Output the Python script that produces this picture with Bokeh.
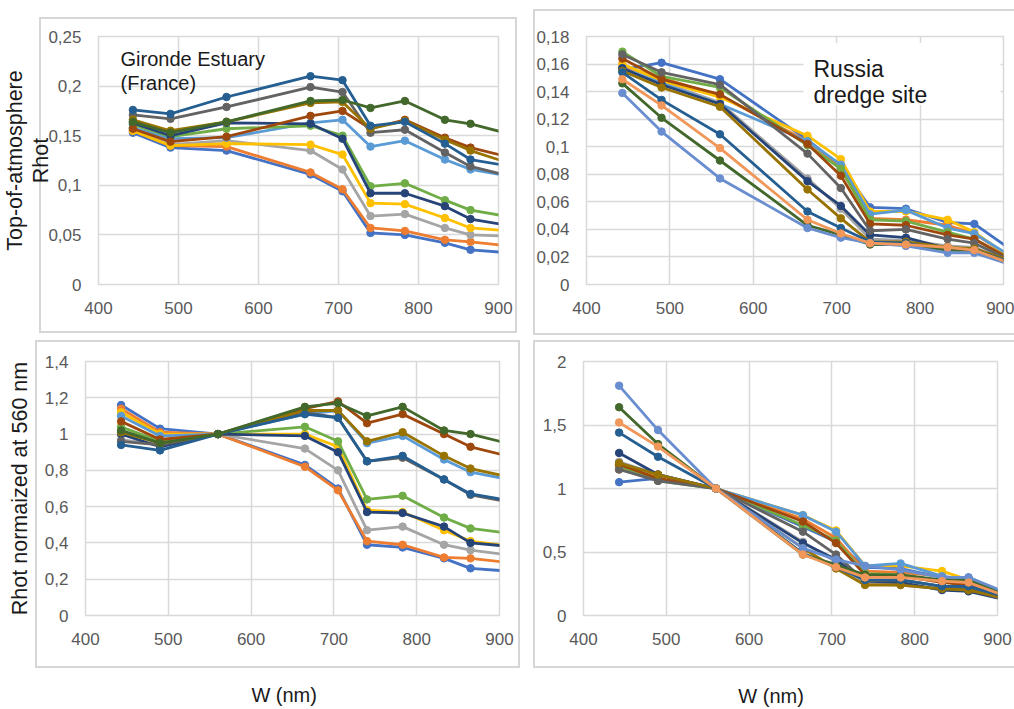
from bokeh.plotting import figure
from bokeh.layouts import column, row
from bokeh.models import (Label, FixedTicker, Range1d, BoxAnnotation, ColumnDataSource)
from bokeh.embed import file_html
from bokeh.resources import INLINE

# ---------------- data ----------------
wavelength = [443, 490, 560, 665, 705, 740, 783, 833, 865, 945]

x_ticks = [400, 500, 600, 700, 800, 900]
x_tick_labels = ["400", "500", "600", "700", "800", "900"]

gironde_y_ticks = [0, 0.05, 0.1, 0.15, 0.2, 0.25]
gironde_y_labels = ["0", "0,05", "0,1", "0,15", "0,2", "0,25"]
russia_y_ticks = [0, 0.02, 0.04, 0.06, 0.08, 0.1, 0.12, 0.14, 0.16, 0.18]
russia_y_labels = ["0", "0,02", "0,04", "0,06", "0,08", "0,1", "0,12", "0,14", "0,16", "0,18"]
gironde_norm_y_ticks = [0, 0.2, 0.4, 0.6, 0.8, 1, 1.2, 1.4]
gironde_norm_y_labels = ["0", "0,2", "0,4", "0,6", "0,8", "1", "1,2", "1,4"]
russia_norm_y_ticks = [0, 0.5, 1, 1.5, 2]
russia_norm_y_labels = ["0", "0,5", "1", "1,5", "2"]

series_colors = ["#4472C4", "#ED7D31", "#A5A5A5", "#FFC000", "#5B9BD5", "#70AD47",
                 "#264478", "#9E480E", "#636363", "#997300", "#255E91", "#43682B",
                 "#698ED0", "#F1975A"]

gironde_rhot = [
    [0.153, 0.138, 0.135, 0.111, 0.094, 0.052, 0.050, 0.042, 0.035, 0.030],
    [0.155, 0.140, 0.139, 0.113, 0.096, 0.057, 0.054, 0.045, 0.043, 0.036],
    [0.158, 0.141, 0.145, 0.135, 0.116, 0.069, 0.071, 0.057, 0.050, 0.048],
    [0.155, 0.140, 0.142, 0.141, 0.131, 0.082, 0.081, 0.067, 0.057, 0.052],
    [0.158, 0.147, 0.148, 0.163, 0.166, 0.139, 0.145, 0.126, 0.116, 0.105],
    [0.161, 0.149, 0.157, 0.160, 0.150, 0.099, 0.102, 0.085, 0.075, 0.064],
    [0.163, 0.150, 0.163, 0.162, 0.147, 0.092, 0.092, 0.079, 0.066, 0.055],
    [0.157, 0.144, 0.149, 0.170, 0.175, 0.157, 0.166, 0.148, 0.138, 0.122],
    [0.171, 0.167, 0.179, 0.199, 0.194, 0.153, 0.156, 0.133, 0.119, 0.103],
    [0.166, 0.155, 0.164, 0.183, 0.184, 0.157, 0.165, 0.146, 0.135, 0.114],
    [0.176, 0.172, 0.189, 0.210, 0.206, 0.160, 0.164, 0.142, 0.126, 0.115],
    [0.164, 0.153, 0.164, 0.185, 0.186, 0.178, 0.185, 0.166, 0.162, 0.145],
]

russia_rhot = [
    [0.156, 0.161, 0.149, 0.105, 0.086, 0.056, 0.055, 0.045, 0.044, 0.010],
    [0.158, 0.150, 0.137, 0.104, 0.084, 0.048, 0.047, 0.043, 0.037, 0.005],
    [0.160, 0.147, 0.132, 0.077, 0.055, 0.033, 0.032, 0.028, 0.027, 0.008],
    [0.160, 0.148, 0.136, 0.108, 0.091, 0.053, 0.053, 0.047, 0.038, 0.004],
    [0.157, 0.146, 0.131, 0.104, 0.087, 0.051, 0.054, 0.041, 0.037, 0.007],
    [0.169, 0.151, 0.143, 0.101, 0.084, 0.047, 0.046, 0.038, 0.033, 0.006],
    [0.157, 0.145, 0.131, 0.075, 0.057, 0.036, 0.034, 0.026, 0.025, 0.009],
    [0.164, 0.149, 0.138, 0.102, 0.079, 0.044, 0.043, 0.036, 0.033, 0.006],
    [0.167, 0.154, 0.145, 0.095, 0.070, 0.039, 0.040, 0.033, 0.030, 0.007],
    [0.155, 0.143, 0.129, 0.069, 0.048, 0.031, 0.031, 0.027, 0.026, 0.010],
    [0.154, 0.134, 0.109, 0.053, 0.041, 0.031, 0.030, 0.025, 0.025, 0.009],
    [0.146, 0.121, 0.090, 0.043, 0.036, 0.029, 0.029, 0.025, 0.025, 0.007],
    [0.139, 0.111, 0.077, 0.041, 0.034, 0.030, 0.028, 0.023, 0.023, 0.007],
    [0.149, 0.130, 0.099, 0.047, 0.037, 0.030, 0.029, 0.027, 0.025, 0.007],
]

gironde_norm = [
    [1.16, 1.03, 1.00, 0.83, 0.70, 0.39, 0.375, 0.315, 0.26, 0.233],
    [1.14, 1.01, 1.00, 0.82, 0.69, 0.41, 0.39, 0.32, 0.315, 0.274],
    [0.97, 0.94, 1.00, 0.92, 0.80, 0.47, 0.49, 0.39, 0.36, 0.314],
    [1.12, 1.00, 1.00, 1.00, 0.93, 0.58, 0.57, 0.47, 0.41, 0.364],
    [1.10, 0.99, 1.00, 1.11, 1.13, 0.95, 0.99, 0.86, 0.79, 0.721],
    [1.04, 0.96, 1.00, 1.04, 0.96, 0.64, 0.66, 0.54, 0.48, 0.434],
    [1.00, 0.93, 1.00, 0.99, 0.90, 0.57, 0.565, 0.49, 0.40, 0.368],
    [1.07, 0.97, 1.00, 1.14, 1.18, 1.06, 1.11, 1.00, 0.93, 0.839],
    [0.96, 0.94, 1.00, 1.12, 1.09, 0.85, 0.87, 0.75, 0.665, 0.596],
    [1.01, 0.95, 1.00, 1.13, 1.13, 0.96, 1.01, 0.88, 0.81, 0.730],
    [0.94, 0.91, 1.00, 1.11, 1.09, 0.85, 0.88, 0.75, 0.67, 0.608],
    [1.02, 0.95, 1.00, 1.15, 1.17, 1.10, 1.15, 1.02, 1.00, 0.909],
]

russia_norm = [
    [1.05, 1.08, 1.00, 0.70, 0.58, 0.38, 0.37, 0.30, 0.30, 0.07],
    [1.15, 1.09, 1.00, 0.76, 0.61, 0.35, 0.34, 0.31, 0.27, 0.03],
    [1.21, 1.11, 1.00, 0.58, 0.42, 0.25, 0.24, 0.21, 0.20, 0.06],
    [1.18, 1.09, 1.00, 0.79, 0.67, 0.39, 0.39, 0.35, 0.28, 0.03],
    [1.20, 1.11, 1.00, 0.79, 0.66, 0.39, 0.41, 0.31, 0.28, 0.05],
    [1.18, 1.06, 1.00, 0.71, 0.59, 0.33, 0.32, 0.27, 0.23, 0.04],
    [1.28, 1.11, 1.00, 0.57, 0.44, 0.27, 0.26, 0.20, 0.19, 0.07],
    [1.19, 1.08, 1.00, 0.74, 0.57, 0.32, 0.31, 0.26, 0.24, 0.04],
    [1.15, 1.06, 1.00, 0.66, 0.48, 0.27, 0.28, 0.23, 0.21, 0.05],
    [1.20, 1.11, 1.00, 0.53, 0.37, 0.24, 0.24, 0.21, 0.20, 0.08],
    [1.44, 1.25, 1.00, 0.49, 0.38, 0.28, 0.28, 0.23, 0.23, 0.08],
    [1.64, 1.35, 1.00, 0.48, 0.40, 0.32, 0.32, 0.28, 0.28, 0.08],
    [1.81, 1.46, 1.00, 0.53, 0.44, 0.39, 0.36, 0.30, 0.30, 0.09],
    [1.52, 1.33, 1.00, 0.48, 0.38, 0.30, 0.30, 0.27, 0.26, 0.07],
]

# ---------------- styling ----------------
FONT = "Liberation Sans"
TICK_COLOR = "#595959"
GRID_COLOR = "#d9d9d9"
BOX_COLOR = "#d6d6d6"
TEXT_COLOR = "#1a1a1a"


def box_background(left, top, right, bottom):
    """CSS background painting the thin chart-box border (local pixels)."""
    w = right - left
    h = bottom - top
    g = "linear-gradient(%s,%s)" % (BOX_COLOR, BOX_COLOR)
    layers = [
        "%s %dpx %dpx / %dpx 2px no-repeat" % (g, left, top, w),
        "%s %dpx %dpx / %dpx 2px no-repeat" % (g, left, bottom - 2, w),
        "%s %dpx %dpx / 2px %dpx no-repeat" % (g, left, top, h),
        "%s %dpx %dpx / 2px %dpx no-repeat" % (g, right - 2, top, h),
    ]
    return ", ".join(layers) + ", #ffffff"


class Panel:
    def __init__(self, origin, size, frame, y_end, y_ticks, y_labels, data, box):
        self.ox, self.oy = origin
        self.w, self.h = size
        self.fl, self.fr, self.ft, self.fb = frame
        self.y_end = y_end
        bl, bt, br, bb = box
        p = figure(width=self.w, height=self.h,
                   x_range=Range1d(400, 900), y_range=Range1d(0, y_end),
                   output_backend="svg", toolbar_location=None,
                   min_border_left=self.fl - self.ox,
                   min_border_right=self.ox + self.w - self.fr,
                   min_border_top=self.ft - self.oy,
                   min_border_bottom=self.oy + self.h - self.fb,
                   styles={"background": box_background(bl - self.ox, bt - self.oy,
                                                         br - self.ox, bb - self.oy)})
        p.background_fill_color = "white"
        p.border_fill_alpha = 0.0
        p.outline_line_color = GRID_COLOR
        p.outline_line_width = 1.5
        for ax in p.axis:
            ax.axis_line_color = None
            ax.major_tick_line_color = None
            ax.minor_tick_line_color = None
            ax.major_tick_out = 0
            ax.major_tick_in = 0
            ax.major_label_text_font = FONT
            ax.major_label_text_font_size = "17px"
            ax.major_label_text_color = TICK_COLOR
            ax.axis_label_text_font = FONT
            ax.axis_label_text_font_style = "normal"
            ax.axis_label_text_color = TEXT_COLOR
        p.xaxis.ticker = FixedTicker(ticks=x_ticks)
        p.xaxis.major_label_overrides = dict(zip(x_ticks, x_tick_labels))
        p.xaxis.major_label_standoff = 17
        p.yaxis.ticker = FixedTicker(ticks=y_ticks)
        p.yaxis.major_label_overrides = dict(zip(y_ticks, y_labels))
        p.yaxis.major_label_standoff = 17
        p.grid.grid_line_color = GRID_COLOR
        p.grid.grid_line_width = 1.5
        for vals, col in zip(data, series_colors):
            src = ColumnDataSource(dict(x=wavelength, y=vals))
            p.line("x", "y", source=src, line_color=col, line_width=2.8,
                   line_join="round")
            p.scatter("x", "y", source=src, size=7.5, fill_color=col,
                      line_color=col, marker="circle")
        self.p = p

    # page-pixel position -> data coordinates of this panel
    def dx(self, px):
        return 400 + (px - self.fl) / (self.fr - self.fl) * 500

    def dy(self, py):
        return (self.fb - py) / (self.fb - self.ft) * self.y_end

    def text(self, txt, px, py, size):
        self.p.add_layout(Label(x=self.dx(px), y=self.dy(py), text=txt,
                                text_font=FONT, text_font_size=size,
                                text_color=TEXT_COLOR, text_align="left",
                                text_baseline="alphabetic"))


A = Panel((0, 0), (520, 335), (98, 498, 36, 284), 0.25,
          gironde_y_ticks, gironde_y_labels, gironde_rhot, (39, 17, 517, 333))
B = Panel((520, 0), (494, 335), (586, 1003, 23, 295), 0.18,
          russia_y_ticks, russia_y_labels, russia_rhot, (533, 9, 1030, 335))
C = Panel((0, 335), (520, 374), (85, 499, 361, 617), 1.4,
          gironde_norm_y_ticks, gironde_norm_y_labels, gironde_norm, (35, 340, 520, 668))
D = Panel((520, 335), (494, 374), (583, 997, 359, 616), 2.0,
          russia_norm_y_ticks, russia_norm_y_labels, russia_norm, (533, 340, 1030, 668))

# in-plot annotations
A.text("Gironde Estuary", 120, 58, "20px")
A.text("(France)", 120, 82, "20px")

B.p.add_layout(BoxAnnotation(left=B.dx(803), right=B.dx(1000), top=B.dy(30), bottom=B.dy(98),
                             fill_color="white", fill_alpha=1.0, line_color=None))
B.text("Russia", 813, 59, "23px")
B.text("dredge site", 813, 87, "23px")

# axis titles
A.p.yaxis.axis_label = "Top-of-atmosphere\nRhot"
A.p.yaxis.axis_label_text_font_size = "21.5px"
A.p.yaxis.axis_label_text_line_height = 1.1
A.p.yaxis.axis_label_standoff = -8

C.p.yaxis.axis_label = "Rhot normaized at 560 nm"
C.p.yaxis.axis_label_text_font_size = "21.5px"
C.p.yaxis.axis_label_standoff = 10

C.p.xaxis.axis_label = "W (nm)" + "\u00a0" * 3
C.p.xaxis.axis_label_text_font_size = "20px"
C.p.xaxis.axis_label_standoff = 36

D.p.xaxis.axis_label = "W (nm)" + "\u00a0" * 7
D.p.xaxis.axis_label_text_font_size = "20px"
D.p.xaxis.axis_label_standoff = 37

layout = column(row(A.p, B.p, spacing=0), row(C.p, D.p, spacing=0), spacing=0)

with open("out.html", "w") as f:
    f.write(file_html(layout, INLINE))
